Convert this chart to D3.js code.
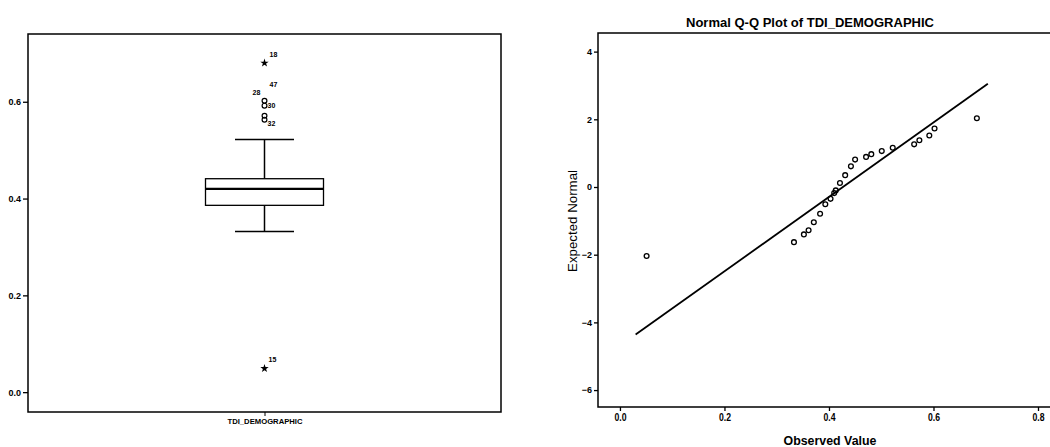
<!DOCTYPE html>
<html lang="en">
<head>
<meta charset="UTF-8">
<title>TDI_DEMOGRAPHIC boxplot and Q-Q plot</title>
<script src="https://d3js.org/d3.v7.min.js"></script>
<style>
    body { margin: 0; background: #fff; }
    svg text { font-family: "Liberation Sans", Arial, sans-serif; fill: #000; }
</style>
</head>
<body>
<svg id="chart" width="1050" height="447"></svg>
<script>
    // ---- data ----
    var variable = "TDI_DEMOGRAPHIC";
    var boxStats = [0.332, 0.386, 0.42, 0.441, 0.522]; // min, q1, median, q3, max (whiskers)
    var outlierValues = [0.68, 0.602, 0.592, 0.571, 0.563, 0.049];
    var outlierKinds = ["extreme", "out", "out", "out", "out", "extreme"];
    var outlierLabels = ["18", "28", "30", "", "32", "15"];
    var extraLabel = { text: "47", of: 1 }; // second case number sitting on the top circle

    var boxTicks = [0.0, 0.2, 0.4, 0.6];

    var observed = [0.051, 0.333, 0.352, 0.361, 0.371, 0.383, 0.393, 0.403, 0.410, 0.413,
                    0.421, 0.431, 0.442, 0.450, 0.471, 0.481, 0.501, 0.522, 0.563, 0.573,
                    0.592, 0.602, 0.683];
    var expected = [-2.04, -1.63, -1.40, -1.28, -1.04, -0.79, -0.51, -0.35, -0.18, -0.10,
                    0.12, 0.35, 0.61, 0.81, 0.89, 0.97, 1.06, 1.16, 1.26, 1.38,
                    1.52, 1.73, 2.03];
    var refLineX = [0.03, 0.704];
    var refLineY = [-4.36, 3.05];
    var qqXTicks = [0.0, 0.2, 0.4, 0.6, 0.8];
    var qqYTicks = [4, 2, 0, -2, -4, -6];

    var svg = d3.select("#chart");
    var fmt = d3.format(".1f");

    //---------------- left: box plot ----------------
    var L = {left: 28, right: 501, top: 34, bottom: 412};
    var yBox = d3.scaleLinear().domain([-0.041, 0.74]).range([L.bottom, L.top]);
    var xBox = d3.scalePoint().domain([variable]).range([L.left, L.right]).padding(0.5);
    var cx = xBox(variable);

    var left = svg.append("g");
    left.append("rect")
        .attr("x", L.left).attr("y", L.top)
        .attr("width", L.right - L.left).attr("height", L.bottom - L.top)
        .attr("fill", "none").attr("stroke", "#000").attr("stroke-width", 1.5);

    var yAxisL = left.append("g")
        .attr("transform", "translate(" + L.left + ",0)")
        .call(d3.axisLeft(yBox).tickValues(boxTicks).tickFormat(fmt).tickSize(5).tickPadding(2));
    yAxisL.select(".domain").remove();
    yAxisL.selectAll("line").attr("stroke-width", 1.3);
    yAxisL.selectAll("text").attr("font-size", 9).attr("font-weight", "bold").attr("font-family", null);

    var xAxisL = left.append("g")
        .attr("transform", "translate(0," + L.bottom + ")")
        .call(d3.axisBottom(xBox).tickSize(4).tickPadding(3));
    xAxisL.select(".domain").remove();
    xAxisL.selectAll("text").attr("font-size", 7).attr("font-weight", "bold").attr("font-family", null)
        .attr("textLength", 75).attr("lengthAdjust", "spacingAndGlyphs");

    var boxW = 118, capW = 59;
    // whiskers
    left.append("line").attr("x1", cx).attr("x2", cx)
        .attr("y1", yBox(boxStats[0])).attr("y2", yBox(boxStats[1]))
        .attr("stroke", "#000").attr("stroke-width", 1.5);
    left.append("line").attr("x1", cx).attr("x2", cx)
        .attr("y1", yBox(boxStats[3])).attr("y2", yBox(boxStats[4]))
        .attr("stroke", "#000").attr("stroke-width", 1.5);
    [boxStats[0], boxStats[4]].forEach(function (v) {
        left.append("line").attr("x1", cx - capW / 2).attr("x2", cx + capW / 2)
            .attr("y1", yBox(v)).attr("y2", yBox(v))
            .attr("stroke", "#000").attr("stroke-width", 1.5);
    });
    left.append("rect")
        .attr("x", cx - boxW / 2).attr("y", yBox(boxStats[3]))
        .attr("width", boxW).attr("height", yBox(boxStats[1]) - yBox(boxStats[3]))
        .attr("fill", "#fff").attr("stroke", "#000").attr("stroke-width", 1.3);
    left.append("line").attr("x1", cx - boxW / 2).attr("x2", cx + boxW / 2)
        .attr("y1", yBox(boxStats[2])).attr("y2", yBox(boxStats[2]))
        .attr("stroke", "#000").attr("stroke-width", 2.2);

    // outliers
    var star = d3.symbol().type(d3.symbolStar).size(22);
    outlierValues.forEach(function (v, i) {
        var y = yBox(v);
        if (outlierKinds[i] === "extreme") {
            left.append("path").attr("d", star).attr("transform", "translate(" + cx + "," + y + ")")
                .attr("fill", "#000");
        } else {
            left.append("circle").attr("cx", cx).attr("cy", y).attr("r", 2.4)
                .attr("fill", "none").attr("stroke", "#000").attr("stroke-width", 1.2);
        }
    });
    var labelPos = {"18": [5, -6], "28": [-12, -6], "30": [3, 2], "32": [3, 6], "15": [4, -6]};
    outlierValues.forEach(function (v, i) {
        var t = outlierLabels[i];
        if (!t) return;
        left.append("text").attr("x", cx + labelPos[t][0]).attr("y", yBox(v) + labelPos[t][1])
            .attr("font-size", 7).attr("font-weight", "bold").text(t);
    });
    left.append("text").attr("x", cx + 5).attr("y", yBox(outlierValues[extraLabel.of]) - 14)
        .attr("font-size", 7).attr("font-weight", "bold").text(extraLabel.text);

    //---------------- right: normal Q-Q plot ----------------
    var R = {left: 598, right: 1056, top: 33, bottom: 407};
    var xQ = d3.scaleLinear().domain([-0.042, 0.8]).range([R.left, 1038]);
    var yQ = d3.scaleLinear().domain([-6.5, 4.55]).range([R.bottom, R.top]);

    var right = svg.append("g");
    right.append("path")
        .attr("d", "M" + R.right + "," + R.top + "H" + R.left + "V" + R.bottom + "H" + R.right)
        .attr("fill", "none").attr("stroke", "#000").attr("stroke-width", 1.5);

    var yAxisR = right.append("g")
        .attr("transform", "translate(" + R.left + ",0)")
        .call(d3.axisLeft(yQ).tickValues(qqYTicks).tickSize(4).tickPadding(2));
    yAxisR.select(".domain").remove();
    yAxisR.selectAll("line").attr("stroke-width", 1.3);
    yAxisR.selectAll("text").attr("font-size", 9).attr("font-weight", "bold").attr("font-family", null);

    var xAxisR = right.append("g")
        .attr("transform", "translate(0," + R.bottom + ")")
        .call(d3.axisBottom(xQ).tickValues(qqXTicks).tickFormat(fmt).tickSize(4).tickPadding(3));
    xAxisR.select(".domain").remove();
    xAxisR.selectAll("line").attr("stroke-width", 1.3);
    xAxisR.selectAll("text").attr("font-size", 10).attr("font-weight", "bold").attr("font-family", null)
        .attr("textLength", 12).attr("lengthAdjust", "spacingAndGlyphs");

    right.append("line")
        .attr("x1", xQ(refLineX[0])).attr("y1", yQ(refLineY[0]))
        .attr("x2", xQ(refLineX[1])).attr("y2", yQ(refLineY[1]))
        .attr("stroke", "#000").attr("stroke-width", 1.8);

    right.selectAll("circle.pt").data(observed).enter().append("circle")
        .attr("class", "pt")
        .attr("cx", function (d) { return xQ(d); })
        .attr("cy", function (d, i) { return yQ(expected[i]); })
        .attr("r", 2.4)
        .attr("fill", "none").attr("stroke", "#000").attr("stroke-width", 1.3);

    right.append("text").attr("x", 810).attr("y", 27).attr("text-anchor", "middle")
        .attr("font-size", 13).attr("font-weight", "bold")
        .attr("textLength", 248).attr("lengthAdjust", "spacingAndGlyphs")
        .text("Normal Q-Q Plot of " + variable);
    right.append("text").attr("x", 830).attr("y", 445).attr("text-anchor", "middle")
        .attr("font-size", 13).attr("font-weight", "bold")
        .attr("textLength", 93).attr("lengthAdjust", "spacingAndGlyphs")
        .text("Observed Value");
    right.append("text")
        .attr("transform", "translate(577,221) rotate(-90)").attr("text-anchor", "middle")
        .attr("font-size", 12.5)
        .attr("textLength", 102).attr("lengthAdjust", "spacingAndGlyphs")
        .text("Expected Normal");
</script>
</body>
</html>
